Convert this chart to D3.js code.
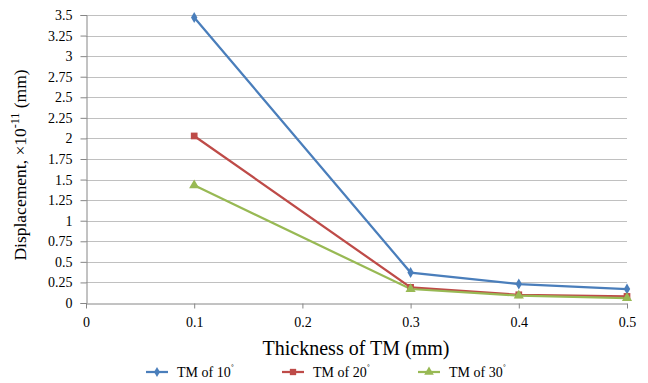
<!DOCTYPE html>
<html>
<head>
<meta charset="utf-8">
<script src="https://cdn.jsdelivr.net/npm/d3@7"></script>
<style>
  body { margin: 0; background: #fff; }
</style>
</head>
<body>
<svg id="chart" width="648" height="383"></svg>
<script>
// data
var thickness = [0.1, 0.3, 0.4, 0.5];
var tm10 = [3.47, 0.37, 0.23, 0.17];
var tm20 = [2.03, 0.19, 0.10, 0.08];
var tm30 = [1.43, 0.17, 0.09, 0.06];
var seriesNames = ["TM of 10", "TM of 20", "TM of 30"];
var xTicks = [0, 0.1, 0.2, 0.3, 0.4, 0.5];
var yTicks = [0, 0.25, 0.5, 0.75, 1, 1.25, 1.5, 1.75, 2, 2.25, 2.5, 2.75, 3, 3.25, 3.5];

var colors = ["#4a7ebb", "#be4b48", "#98b954"];
var symbols = [d3.symbolDiamond, d3.symbolSquare, d3.symbolTriangle];
var serif = "Liberation Serif";

var svg = d3.select("#chart");
var x = d3.scaleLinear().domain([0, 0.5]).range([86, 627]);
var y = d3.scaleLinear().domain([0, 3.5]).range([303, 15]);

// gridlines
svg.append("g")
  .selectAll("line")
  .data(yTicks.slice(1))
  .enter().append("line")
  .attr("x1", x(0)).attr("x2", x(0.5))
  .attr("y1", function(d) { return Math.round(y(d)) + 0.5; })
  .attr("y2", function(d) { return Math.round(y(d)) + 0.5; })
  .attr("stroke", "#c0c0c0").attr("stroke-width", 1);

// y axis
var yAxis = svg.append("g")
  .attr("transform", "translate(" + (x(0) + 0.5) + ",0)")
  .call(d3.axisLeft(y).tickValues(yTicks).tickSize(6).tickPadding(8)
    .tickFormat(function(d) { return String(d); }));
yAxis.select(".domain").attr("stroke", "#868686");
yAxis.selectAll(".tick line").attr("stroke", "#868686");
yAxis.selectAll(".tick text").style("font-family", serif).style("font-size", "14px").attr("fill", "#000");

// x axis
var xAxis = svg.append("g")
  .attr("transform", "translate(0," + (Math.round(y(0)) + 0.5) + ")")
  .call(d3.axisBottom(x).tickValues(xTicks).tickSize(5).tickSizeOuter(0).tickPadding(9)
    .tickFormat(function(d) { return String(d); }));
xAxis.select(".domain").attr("stroke", "#868686");
xAxis.selectAll(".tick line").attr("stroke", "#868686");
xAxis.selectAll(".tick text").style("font-family", serif).style("font-size", "14px").attr("fill", "#000");

// axis titles
svg.append("text")
  .attr("x", 356).attr("y", 355)
  .attr("text-anchor", "middle")
  .style("font-family", serif).style("font-size", "20px")
  .text("Thickness of TM (mm)");

var yt = svg.append("text")
  .attr("transform", "translate(26,165) rotate(-90)")
  .attr("text-anchor", "middle")
  .style("font-family", serif).style("font-size", "17.5px");
yt.append("tspan").text("Displacement, \u00d710");
yt.append("tspan").attr("dy", -7).style("font-size", "12px").text("-11");
yt.append("tspan").attr("dy", 7).text(" (mm)");

// series
var allSeries = [tm10, tm20, tm30];
var line = d3.line()
  .x(function(d, i) { return x(thickness[i]); })
  .y(function(d) { return y(d); });

allSeries.forEach(function(vals, s) {
  svg.append("path")
    .datum(vals)
    .attr("fill", "none")
    .attr("stroke", colors[s])
    .attr("stroke-width", 2.25)
    .attr("d", line);
});
allSeries.forEach(function(vals, s) {
  svg.append("g").selectAll("path")
    .data(vals)
    .enter().append("path")
    .attr("transform", function(d, i) { return "translate(" + x(thickness[i]) + "," + y(d) + ")"; })
    .attr("d", d3.symbol().type(symbols[s]).size(s === 0 ? 35 : 45))
    .attr("fill", colors[s]);
});

// legend
var legendX = [146, 282, 418];
var leg = svg.append("g");
seriesNames.forEach(function(name, s) {
  var g = leg.append("g").attr("transform", "translate(" + legendX[s] + ",372)");
  g.append("line").attr("x1", 0).attr("x2", 22).attr("y1", 0).attr("y2", 0)
    .attr("stroke", colors[s]).attr("stroke-width", 2.25);
  g.append("path").attr("transform", "translate(11,0)")
    .attr("d", d3.symbol().type(symbols[s]).size(s === 0 ? 30 : 40))
    .attr("fill", colors[s]);
  var t = g.append("text").attr("x", 31).attr("y", 4.5)
    .style("font-family", serif).style("font-size", "14px");
  t.append("tspan").text(name);
  t.append("tspan").attr("dy", -5).style("font-size", "10px").text("\u02da");
});
</script>
</body>
</html>
